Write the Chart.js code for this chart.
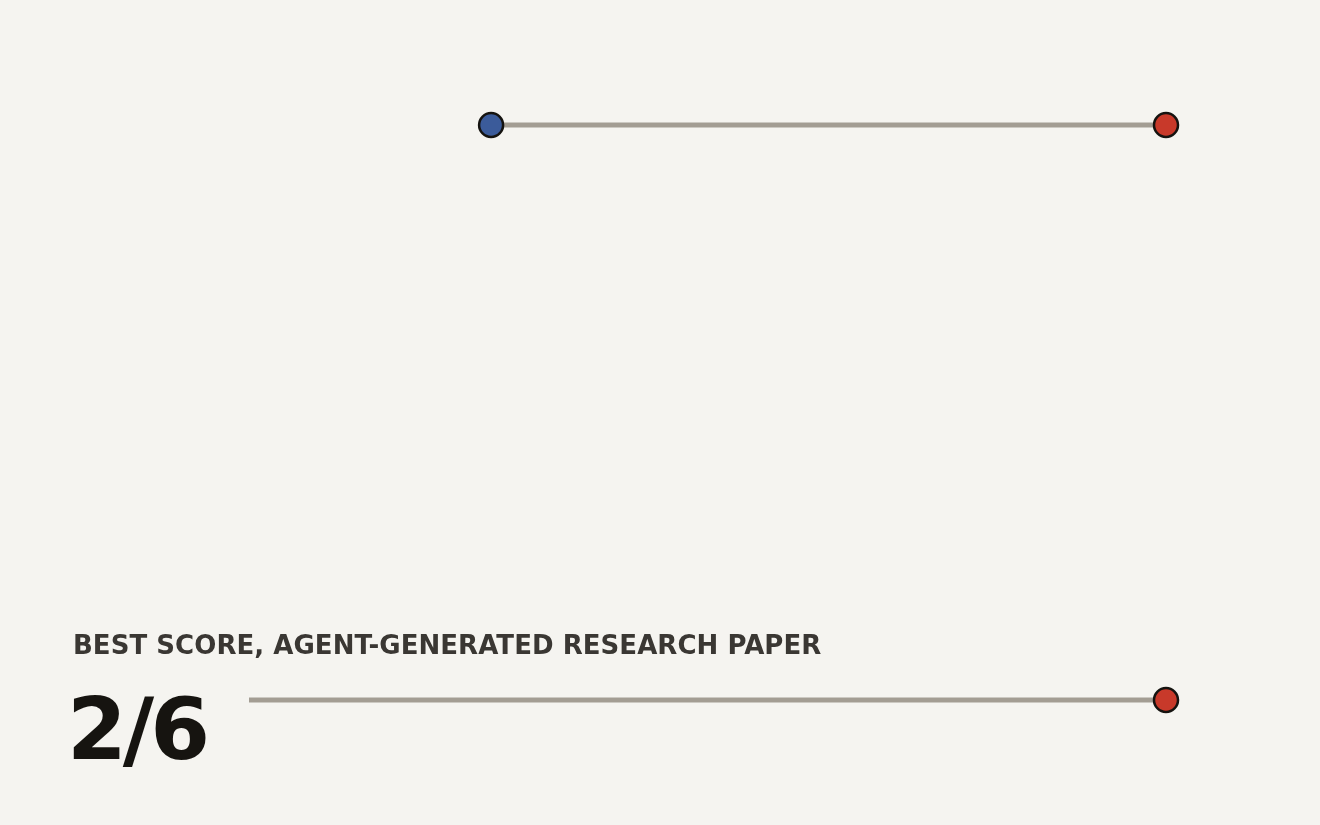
<!DOCTYPE html>
<html>
<head>
<meta charset="utf-8">
<script src="https://cdn.jsdelivr.net/npm/chart.js@4"></script>
<style>
  html, body { margin: 0; padding: 0; background: #f5f4f0; }
  #wrap { position: relative; width: 1320px; height: 825px; overflow: hidden; }
  #chart { position: absolute; left: 0; top: 0; }
  .label {
    position: absolute; left: 73px; top: 632px;
    font: 700 26px "DejaVu Sans", sans-serif; letter-spacing: 0.05px;
    color: #3a3733; white-space: nowrap; line-height: 1;
  }
  .big {
    position: absolute; left: 67px; top: 686px;
    font: 700 86px "DejaVu Sans", sans-serif; letter-spacing: -4px;
    color: #161410; line-height: 1; white-space: nowrap;
  }
</style>
</head>
<body>
<div id="wrap">
  <canvas id="chart" width="1320" height="825"></canvas>
  <div class="label">BEST SCORE, AGENT-GENERATED RESEARCH PAPER</div>
  <div class="big">2/6</div>
</div>
<script>
// ================== Data ==================
// row positions (1 = top dumbbell, 0 = bottom bar)
const rowY = [1, 0];
// start / end of each row on a 0..100 scale
const startValues = [26.4, 0];
const endValues = [100, 100];
// whether the start gets a dot
const startDot = [true, false];

const lineColor = '#a39d93';
const blue = '#3b5b9a';
const red = '#c8392a';

const datasets = [];

// connecting lines
rowY.forEach((y, i) => {
  datasets.push({
    type: 'line',
    data: [{ x: startValues[i], y }, { x: endValues[i], y }],
    borderColor: lineColor,
    borderWidth: 5,
    borderCapStyle: 'butt',
    pointRadius: 0,
    clip: false,
    order: 2
  });
});

// start dots
datasets.push({
  type: 'scatter',
  data: rowY.map((y, i) => ({ x: startValues[i], y })).filter((d, i) => startDot[i]),
  backgroundColor: blue,
  borderColor: '#151310',
  borderWidth: 2.5,
  pointRadius: 12,
  clip: false,
  order: 1
});

// end dots
datasets.push({
  type: 'scatter',
  data: rowY.map((y, i) => ({ x: endValues[i], y })),
  backgroundColor: red,
  borderColor: '#151310',
  borderWidth: 2.5,
  pointRadius: 12,
  clip: false,
  order: 1
});

new Chart(document.getElementById('chart'), {
  type: 'scatter',
  data: { datasets },
  options: {
    responsive: false,
    animation: false,
    layout: { padding: { left: 249, right: 154, top: 125, bottom: 125 } },
    plugins: { legend: { display: false }, tooltip: { enabled: false } },
    scales: {
      x: { type: 'linear', min: 0, max: 100, display: false },
      y: { type: 'linear', min: 0, max: 1, display: false }
    }
  }
});
</script>
</body>
</html>
